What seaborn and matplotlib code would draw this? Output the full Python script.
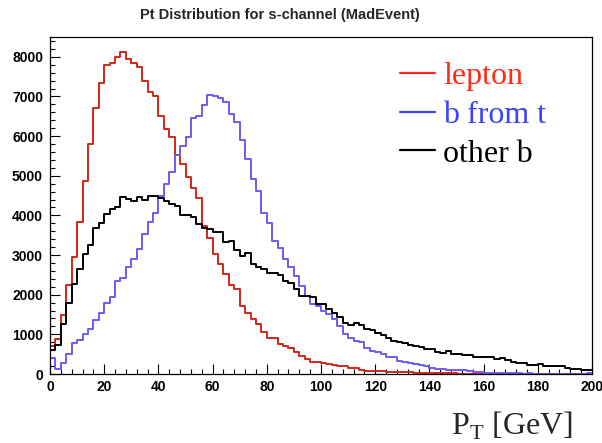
import numpy as np
import pandas as pd
import matplotlib
matplotlib.use("Agg")
import matplotlib.pyplot as plt
import seaborn as sns
from matplotlib.lines import Line2D
from matplotlib.ticker import MultipleLocator

# Pt spectra, 2 GeV bins from 0 to 200 GeV (events per bin)
pt_low, pt_high, bin_width = 0, 200, 2

lepton = [
    700, 880, 1490, 2240, 2940, 3830, 4870, 5790, 6700, 7350,
    7790, 7840, 8000, 8110, 7950, 7850, 7750, 7400, 7120, 7010,
    6500, 6190, 5980, 5520, 5300, 4970, 4680, 4440, 3740, 3440,
    3020, 2770, 2520, 2240, 2140, 1720, 1550, 1390, 1260, 1050,
    920, 900, 760, 710, 650, 550, 450, 380, 310, 310,
    290, 250, 230, 210, 190, 145, 140, 95, 85, 80,
    70, 65, 55, 50, 45, 40, 40, 30, 35, 25,
    25, 20, 25, 15, 20, 12, 10, 12, 8, 10,
    6, 8, 5, 6, 4, 5, 3, 4, 3, 3,
    2, 3, 2, 2, 1, 2, 1, 1, 1, 1,
]

b_from_t = [
    410, 120, 290, 500, 770, 850, 1000, 1130, 1360, 1550,
    1780, 1930, 2340, 2420, 2690, 2900, 3150, 3520, 3830, 4060,
    4500, 4780, 5090, 5520, 5740, 5980, 6460, 6510, 6780, 7030,
    7010, 6950, 6860, 6570, 6360, 5900, 5430, 4930, 4620, 4070,
    3820, 3360, 3190, 2900, 2690, 2480, 2230, 1970, 1760, 1720,
    1600, 1510, 1390, 1220, 1010, 900, 840, 800, 650, 590,
    550, 500, 420, 420, 340, 300, 270, 250, 220, 200,
    160, 130, 125, 110, 90, 90, 95, 85, 45, 40,
    35, 35, 30, 35, 30, 30, 15, 12, 15, 12,
    10, 10, 12, 8, 10, 8, 10, 8, 12, 20,
]

other_b = [
    600, 730, 1260, 1780, 2270, 2660, 3030, 3260, 3690, 3800,
    4040, 4170, 4210, 4460, 4420, 4360, 4460, 4390, 4480, 4500,
    4450, 4360, 4290, 4230, 4000, 4000, 3970, 3790, 3670, 3650,
    3590, 3570, 3320, 3360, 3120, 2980, 3050, 2770, 2710, 2650,
    2560, 2560, 2500, 2350, 2290, 2140, 1970, 1970, 1930, 1760,
    1760, 1640, 1550, 1450, 1290, 1240, 1290, 1240, 1130, 1120,
    1030, 980, 900, 840, 800, 770, 730, 700, 670, 620,
    640, 560, 540, 580, 510, 510, 480, 480, 420, 420,
    420, 420, 370, 400, 350, 310, 290, 290, 230, 230,
    250, 190, 200, 200, 200, 140, 130, 120, 100, 90,
]

series_names = ["lepton", "b from t", "other b"]
line_colors = {"lepton": "#d2261a", "b from t": "#6a5cf2", "other b": "#000000"}
legend_colors = {"lepton": "#ff2a18", "b from t": "#3a44f4", "other b": "#000000"}

n_bins = len(lepton)
centers = pt_low + bin_width * (np.arange(n_bins) + 0.5)

df = pd.DataFrame({
    "pt": np.concatenate([centers] * 3),
    "count": np.concatenate([lepton, b_from_t, other_b]).astype(float),
    "particle": np.repeat(series_names, n_bins),
})

sns.set_style("ticks")
plt.rcParams["font.family"] = ["Liberation Sans", "DejaVu Sans"]

fig = plt.figure(figsize=(6.02, 4.43), dpi=100)
ax = fig.add_axes([50 / 602, 1 - 374 / 443, 542 / 602, 337 / 443])

for name in series_names:
    sns.histplot(
        data=df[df["particle"] == name], x="pt", weights="count",
        binwidth=bin_width, binrange=(pt_low, pt_high),
        element="step", fill=False, color=line_colors[name],
        linewidth=1.4, ax=ax,
    )

ax.set_xlim(pt_low, pt_high)
ax.set_ylim(0, 8500)
ax.xaxis.set_major_locator(MultipleLocator(20))
ax.xaxis.set_minor_locator(MultipleLocator(4))
ax.yaxis.set_major_locator(MultipleLocator(1000))
ax.yaxis.set_minor_locator(MultipleLocator(200))
ax.tick_params(which="both", direction="in", top=False, right=False,
               width=0.8, colors="black")
ax.tick_params(which="major", length=7.2)
ax.tick_params(which="minor", length=3.6)
ax.tick_params(axis="y", pad=5)
ax.tick_params(axis="x", pad=4)
for lab in ax.get_xticklabels() + ax.get_yticklabels():
    lab.set_fontweight("bold")
    lab.set_fontsize(10)
for sp in ax.spines.values():
    sp.set_linewidth(0.9)
    sp.set_color("black")

ax.set_ylabel("")
ax.set_xlabel(r"P$_{\mathregular{T}}$ [GeV]", fontsize=23,
              family=["Liberation Serif", "DejaVu Serif"])
ax.xaxis.set_label_coords((573 - 50) / 542, (374 - 435) / 337)
ax.xaxis.label.set_ha("right")
ax.xaxis.label.set_va("baseline")

fig.text(0.465, 1 - 15 / 443, "Pt Distribution for s-channel (MadEvent)",
         ha="center", va="center", fontsize=10.5, fontweight="bold")

handles = [Line2D([], [], color=legend_colors[n], linewidth=1.6) for n in series_names]
leg = ax.legend(handles, series_names, loc="upper left",
                bbox_to_anchor=(400 / 602, 1 - 62 / 443),
                bbox_transform=fig.transFigure, frameon=False,
                prop={"family": ["Liberation Serif", "DejaVu Serif"], "size": 23},
                handlelength=1.1, handletextpad=0.25, labelspacing=0.29,
                borderpad=0, borderaxespad=0,
                labelcolor=[legend_colors[n] for n in series_names])

fig.savefig("out.png", dpi=100)
